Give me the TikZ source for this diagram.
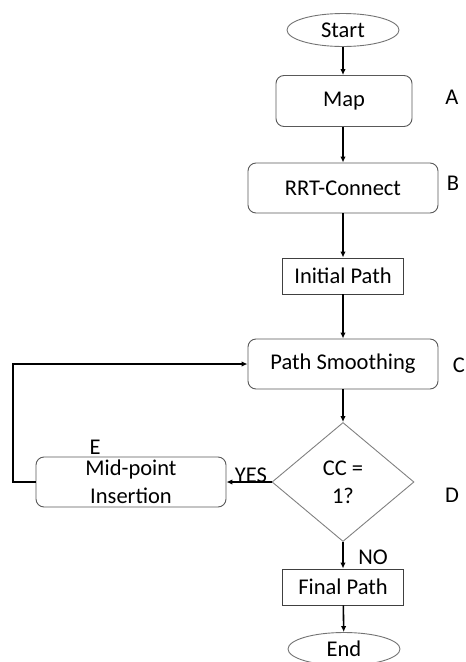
\documentclass[tikz,border=0pt]{standalone}
\usepackage{fontspec}
\setmainfont{Carlito}
\usetikzlibrary{shapes.geometric,arrows.meta}
\begin{document}
\begin{tikzpicture}[x=1pt,y=-1pt,
  every node/.style={font=\fontsize{22.5}{28}\selectfont},
  rbox/.style={draw=black!65,line width=0.9pt,rounded corners=8pt,minimum width=190pt,minimum height=50pt,inner sep=0pt,align=center},
  sbox/.style={draw=black!75,line width=0.9pt,minimum width=121pt,minimum height=36pt,inner sep=0pt},
  term/.style={draw=black!55,line width=0.9pt,ellipse,minimum width=112pt,minimum height=33pt,inner sep=0pt},
  dec/.style={draw=black!50,line width=0.9pt,diamond,minimum width=142pt,minimum height=119pt,inner sep=0pt,align=center},
  conn/.style={line width=1.6pt,-{Latex[length=6pt,width=5.5pt]}},
  lbl/.style={inner sep=0pt}]
\useasboundingbox (0,0) rectangle (466,662);
\node[term] (start) at (343,30) {Start};
\node[rbox,minimum width=136pt,minimum height=51pt] (map) at (344,101) {Map};
\node[rbox] (rrt) at (343,188) {RRT-Connect};
\node[sbox] (init) at (343,276) {Initial Path};
\node[rbox] (smooth) at (343,364) {Path Smoothing};
\node[dec] (cc) at (343,482) {CC =\\1?};
\node[rbox] (mid) at (131,482) {Mid-point\\Insertion};
\node[sbox] (final) at (343,587) {Final Path};
\node[term] (end) at (344,649) {End};
\coordinate (lb) at (13,482);
\coordinate (lt) at (13,364);
\node[lbl] (la) at (452,97) {A};
\node[lbl] (lbB) at (453,183) {B};
\node[lbl,anchor=east] (lc) at (465,365) {C};
\node[lbl] (ld) at (452,495) {D};
\node[lbl] (le) at (95,447) {E};
\node[lbl] (yes) at (251,475) {YES};
\node[lbl] (no) at (373,557) {NO};
\draw[conn] (start) -- (start.south |- map.north);
\draw[conn] (map.south -| start) -- (start |- rrt.north);
\draw[conn] (rrt) -- (init);
\draw[conn] (init) -- (smooth);
\draw[conn] (smooth) -- (cc);
\draw[conn] (cc.west) -- (mid.east);
\draw[conn] (cc.south) -- (final);
\draw[conn] (final) -- (end);
\draw[conn,rounded corners=0pt] (mid.west) -- (lb) -- (lt) -- (smooth.west);
\end{tikzpicture}
\end{document}
